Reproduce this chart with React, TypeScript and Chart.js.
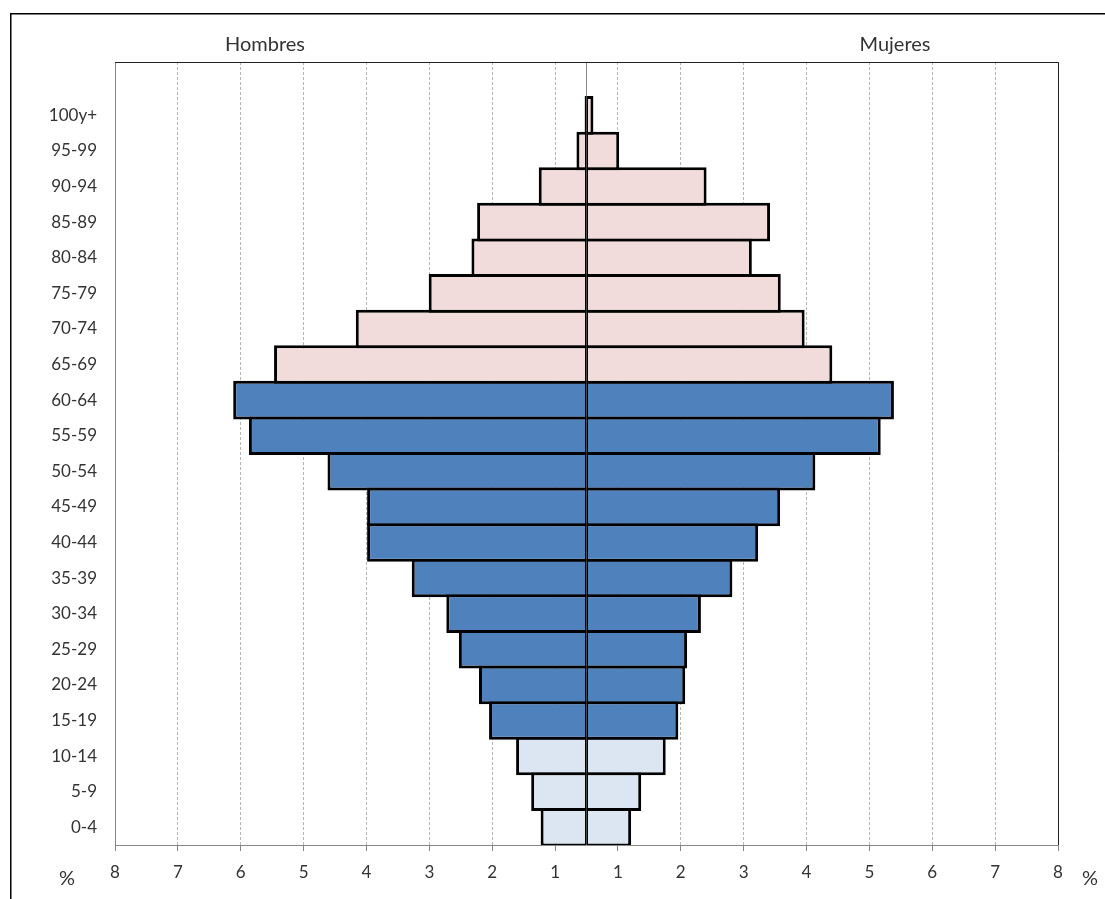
import React, { useEffect, useRef } from "react";
import { Chart, registerables } from "chart.js";

Chart.register(...registerables);

// Age groups, bottom (youngest) to top (oldest)
const ageGroups = [
  "0-4", "5-9", "10-14", "15-19", "20-24", "25-29", "30-34", "35-39", "40-44",
  "45-49", "50-54", "55-59", "60-64", "65-69", "70-74", "75-79", "80-84",
  "85-89", "90-94", "95-99", "100y+",
];
const spacerLabel = "";

// Bar lengths in axis units from the centre line (left = Hombres, right = Mujeres)
const menValues = [
  0.73, 0.88, 1.12, 1.55, 1.71, 2.03, 2.23, 2.78, 3.49, 3.49, 4.12,
  5.37, 5.62, 4.97, 3.67, 2.51, 1.83, 1.74, 0.76, 0.16, 0.03,
];
const womenValues = [
  0.71, 0.87, 1.26, 1.46, 1.57, 1.6, 1.82, 2.32, 2.73, 3.08, 3.64,
  4.68, 4.89, 3.91, 3.47, 3.09, 2.63, 2.92, 1.91, 0.52, 0.11,
];

// Tick positions on the value axis; labels shown are |v| + 0.5 (8 … 1 | 1 … 8)
const axisTicks = [
  -7.5, -6.5, -5.5, -4.5, -3.5, -2.5, -1.5, -0.5,
  0.5, 1.5, 2.5, 3.5, 4.5, 5.5, 6.5, 7.5,
];
const sideTitles = ["Hombres", "Mujeres"];
const unitLabel = "%";

const groupColor = (i: number) =>
  i < 3 ? "#DCE6F2" : i < 13 ? "#4F81BD" : "#F2DCDB";

const FONT = "Lato, 'Open Sans', sans-serif";
const TEXT = "#333333";
const BW = 3;

const decorPlugin = {
  id: "decor",
  beforeDraw(chart: any) {
    const { ctx, width, height } = chart;
    ctx.save();
    ctx.fillStyle = "#ffffff";
    ctx.fillRect(0, 0, width, height);
    ctx.strokeStyle = "#000000";
    ctx.lineWidth = 1.5;
    ctx.beginPath();
    ctx.moveTo(10.75, height + 2);
    ctx.lineTo(10.75, 13.75);
    ctx.lineTo(width + 2, 13.75);
    ctx.stroke();
    ctx.restore();
  },
  beforeDatasetsDraw(chart: any) {
    const { ctx, chartArea } = chart;
    const { left, right, top, bottom } = chartArea;
    const cx = chart.scales.x.getPixelForValue(0);
    ctx.save();
    ctx.lineWidth = 1;
    ctx.strokeStyle = "#868686";
    ctx.beginPath();
    ctx.moveTo(cx, top);
    ctx.lineTo(cx, bottom);
    ctx.stroke();
    ctx.beginPath();
    ctx.moveTo(Math.round(left) + 0.5, top);
    ctx.lineTo(Math.round(left) + 0.5, Math.round(bottom) + 0.5);
    ctx.lineTo(right, Math.round(bottom) + 0.5);
    ctx.stroke();
    ctx.strokeStyle = "#202020";
    ctx.beginPath();
    ctx.moveTo(left, Math.round(top) + 0.5);
    ctx.lineTo(Math.round(right) + 0.5, Math.round(top) + 0.5);
    ctx.lineTo(Math.round(right) + 0.5, bottom);
    ctx.stroke();
    ctx.restore();
  },
  afterDraw(chart: any) {
    const { ctx } = chart;
    ctx.save();
    ctx.fillStyle = TEXT;
    ctx.textAlign = "center";
    ctx.textBaseline = "alphabetic";
    ctx.font = `20px ${FONT}`;
    ctx.fillText(sideTitles[0], 265, 50.5);
    ctx.fillText(sideTitles[1], 895, 50.5);
    ctx.fillText(unitLabel, 67, 885);
    ctx.fillText(unitLabel, 1090, 885);
    ctx.restore();
  },
};

export default function App() {
  const canvasRef = useRef<HTMLCanvasElement | null>(null);

  useEffect(() => {
    if (!canvasRef.current) return;
    const colors = ageGroups.map((_, i) => groupColor(i));
    const common = {
      backgroundColor: colors,
      borderColor: "#000000",
      borderSkipped: false,
      barPercentage: 1.084,
      categoryPercentage: 1,
      inflateAmount: 0,
    };
    const chart = new Chart(canvasRef.current, {
      type: "bar",
      data: {
        labels: [...ageGroups, spacerLabel],
        datasets: [
          {
            label: sideTitles[0],
            data: menValues.map((v) => -v),
            ...common,
            borderWidth: { top: BW, bottom: BW, left: BW, right: BW / 2 },
          } as any,
          {
            label: sideTitles[1],
            data: womenValues,
            ...common,
            borderWidth: { top: BW, bottom: BW, left: BW / 2, right: BW },
          } as any,
        ],
      },
      options: {
        indexAxis: "y",
        animation: false,
        responsive: false,
        devicePixelRatio: 1,
        layout: { padding: { top: 62, right: 47, left: 0, bottom: 0 } },
        plugins: {
          legend: { display: false },
          tooltip: { enabled: false },
        },
        scales: {
          x: {
            type: "linear",
            min: -7.5,
            max: 7.5,
            stacked: true,
            afterBuildTicks: (s: any) => {
              s.ticks = axisTicks.map((v) => ({ value: v }));
            },
            afterFit: (s: any) => {
              s.height = 54;
            },
            ticks: {
              autoSkip: false,
              maxRotation: 0,
              padding: 11,
              color: TEXT,
              font: { family: FONT, size: 17 },
              callback: (v: any) => String(Math.round(Math.abs(Number(v)) + 0.5)),
            },
            grid: {
              color: "#B4B4B4",
              lineWidth: 1,
              drawTicks: true,
              tickLength: 6,
              tickColor: "#868686",
              tickWidth: 1,
            },
            border: { display: false, dash: [3, 2] },
          },
          y: {
            type: "category",
            reverse: true,
            stacked: true,
            afterFit: (s: any) => {
              s.width = 115;
            },
            ticks: {
              autoSkip: false,
              padding: 18,
              color: TEXT,
              font: { family: FONT, size: 17 },
            },
            grid: { display: false, drawTicks: false },
            border: { display: false },
          },
        },
      } as any,
      plugins: [decorPlugin],
    });
    return () => chart.destroy();
  }, []);

  return (
    <div style={{ position: "absolute", left: 0, top: 0, width: 1105, height: 899 }}>
      <canvas ref={canvasRef} width={1105} height={899} style={{ display: "block" }} />
    </div>
  );
}
